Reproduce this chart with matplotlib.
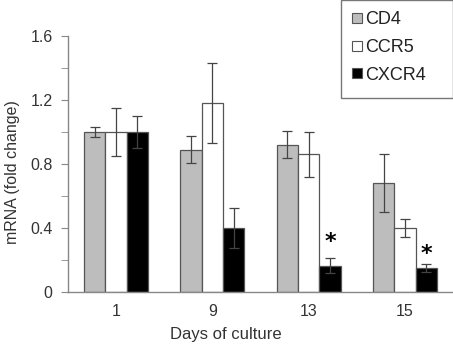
import matplotlib
matplotlib.use("Agg")
import matplotlib.pyplot as plt
import numpy as np
from matplotlib.lines import Line2D
from matplotlib.patches import Rectangle

plt.rcParams["font.family"] = ["Liberation Sans", "DejaVu Sans"]

days = ["1", "9", "13", "15"]
series = ["CD4", "CCR5", "CXCR4"]
cd4 = [1.00, 0.89, 0.92, 0.68]
cd4_err = [0.03, 0.085, 0.085, 0.18]
ccr5 = [1.00, 1.18, 0.86, 0.40]
ccr5_err = [0.15, 0.25, 0.14, 0.055]
cxcr4 = [1.00, 0.40, 0.165, 0.148]
cxcr4_err = [0.10, 0.125, 0.045, 0.025]
star_heights = [None, None, 0.31, 0.24]  # significance markers on CXCR4

values = [cd4, ccr5, cxcr4]
errors = [cd4_err, ccr5_err, cxcr4_err]
colors = ["#bdbdbd", "#ffffff", "#000000"]

fig = plt.figure(figsize=(4.53, 3.45), dpi=100)
ax = fig.add_axes([68/453, 53/345, 385/453, 256/345])

x = np.arange(len(days))
w = 0.222
for i, (vals, errs, c) in enumerate(zip(values, errors, colors)):
    ax.bar(x + (i - 1) * w, vals, width=w, color=c, edgecolor="#555555",
           linewidth=0.9, zorder=2)
    ax.errorbar(x + (i - 1) * w, vals, yerr=errs, fmt="none", ecolor="#444444",
                elinewidth=0.9, capsize=3.5, capthick=0.9, zorder=3)

for xi, (v, h) in enumerate(zip(cxcr4, star_heights)):
    if h is not None:
        ax.text(xi + w, h, "*", ha="center", va="center", fontsize=16,
                fontweight="bold", color="black", family="DejaVu Sans")

ax.set_xlim(-0.5, 3.5)
ax.set_ylim(0, 1.6)
ax.set_xticks(x)
ax.set_xticklabels(days)
ax.set_yticks([0, 0.4, 0.8, 1.2, 1.6])
ax.set_yticklabels(["0", "0.4", "0.8", "1.2", "1.6"])
ax.set_yticks([0.2, 0.6, 1.0, 1.4], minor=True)
ax.tick_params(axis="y", which="both", direction="out", length=5, color="#888888",
               labelsize=11.5, labelcolor="#333333", pad=6)
ax.tick_params(axis="x", length=0, labelsize=11.5, labelcolor="#333333", pad=9)
for s in ["top", "right"]:
    ax.spines[s].set_visible(False)
for s in ["left", "bottom"]:
    ax.spines[s].set_color("#888888")
    ax.spines[s].set_linewidth(1.0)

fig.text(13/453, 1 - 172/345, "mRNA (fold change)", rotation=90, ha="center",
         va="center", fontsize=11.5, color="#333333")
fig.text(226/453, 1 - 334/345, "Days of culture", ha="center", va="center",
         fontsize=12, color="#333333")

# legend frame drawn as a figure rectangle
fig.patches.append(Rectangle((341/453, 1 - 98/345), 111.5/453, 98/345,
                             transform=fig.transFigure, facecolor="white",
                             edgecolor="#777777", linewidth=1.0, zorder=5))
handles = [Line2D([], [], marker="s", linestyle="none", markersize=6.5,
                  markerfacecolor=c, markeredgecolor="#555555", markeredgewidth=0.8)
           for c in colors]
leg = fig.legend(handles, series, loc="upper left",
                 bbox_to_anchor=(352/453, 1 - 11/345), fontsize=13, frameon=False,
                 handlelength=0.55, handletextpad=0.15,
                 labelspacing=0.6, borderpad=0.0, borderaxespad=0.0)
leg.set_zorder(6)
for t in leg.get_texts():
    t.set_color("#222222")

fig.savefig("out.png", dpi=100)
